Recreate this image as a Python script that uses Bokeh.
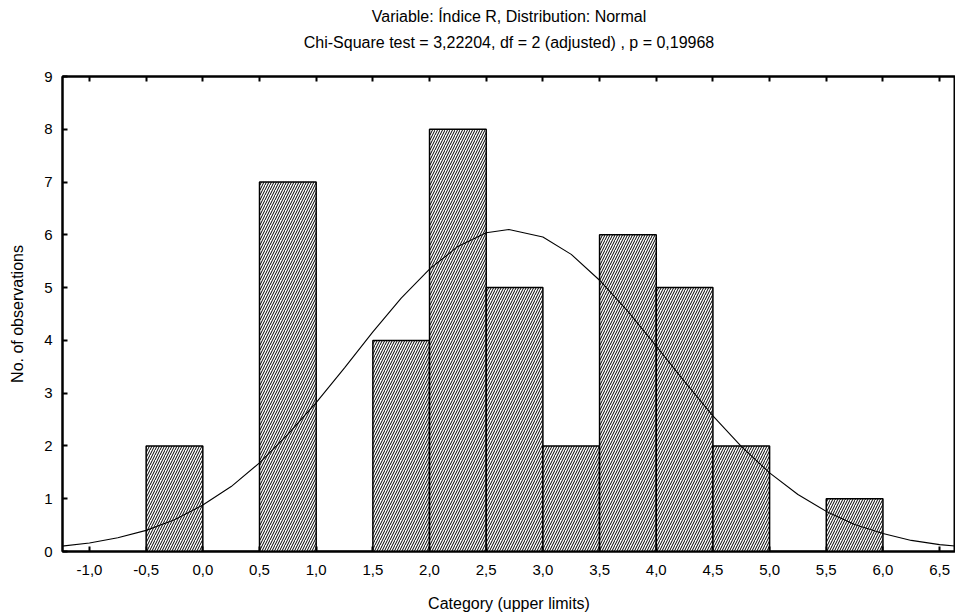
from bokeh.plotting import figure
from bokeh.models import (LinearAxis, FixedTicker, CustomJSTickFormatter, Range1d, ColumnDataSource)
from bokeh.embed import file_html
from bokeh.resources import INLINE

# ---- data ----
bin_lower = [-0.5, 0.0, 0.5, 1.0, 1.5, 2.0, 2.5, 3.0, 3.5, 4.0, 4.5, 5.0, 5.5]
bin_upper = [0.0, 0.5, 1.0, 1.5, 2.0, 2.5, 3.0, 3.5, 4.0, 4.5, 5.0, 5.5, 6.0]
counts    = [2, 0, 7, 0, 4, 8, 5, 2, 6, 5, 2, 0, 1]

curve_x = [-1.25, -1.0, -0.75, -0.5, -0.25, 0.0, 0.25, 0.5, 0.75, 1.0, 1.25, 1.5, 1.75,
           2.0, 2.25, 2.5, 2.7, 3.0, 3.25, 3.5, 3.75, 4.0, 4.25, 4.5, 4.75, 5.0, 5.25,
           5.5, 5.75, 6.0, 6.25, 6.5, 6.7]
curve_y = [0.10, 0.16, 0.26, 0.40, 0.60, 0.88, 1.23, 1.68, 2.22, 2.82, 3.48, 4.16, 4.80,
           5.35, 5.78, 6.04, 6.10, 5.96, 5.63, 5.14, 4.55, 3.89, 3.22, 2.57, 1.99, 1.49, 1.08,
           0.76, 0.51, 0.34, 0.21, 0.13, 0.09]

x_ticks = [-1.0, -0.5, 0.0, 0.5, 1.0, 1.5, 2.0, 2.5, 3.0, 3.5, 4.0, 4.5, 5.0, 5.5, 6.0, 6.5]
y_ticks = [0, 1, 2, 3, 4, 5, 6, 7, 8, 9]

title_1 = "Variable: Índice R, Distribution: Normal"
title_2 = "Chi-Square test = 3,22204, df = 2 (adjusted) , p = 0,19968"
x_label = "Category (upper limits)"
y_label = "No. of observations"

FONT = "Liberation Sans"

p = figure(width=955, height=615, output_backend="svg", toolbar_location=None,
           x_range=Range1d(-1.238, 6.64), y_range=Range1d(0, 9),
           x_axis_location=None, y_axis_location=None,
           min_border_left=62, min_border_right=0, min_border_top=76, min_border_bottom=64)
p.title = None
p.grid.visible = False
p.outline_line_color = "black"
p.outline_line_width = 2
p.background_fill_color = "white"
p.border_fill_color = "white"

src = ColumnDataSource(dict(left=bin_lower, right=bin_upper, top=counts))
p.quad(left="left", right="right", bottom=0, top="top", source=src,
       fill_color="white", line_color="black", line_width=1.5,
       hatch_pattern="/", hatch_color="black", hatch_scale=5, hatch_weight=1)

p.line(curve_x, curve_y, line_color="black", line_width=1.1)

fmt = CustomJSTickFormatter(code="return tick.toFixed(1).replace('.', ',');")
blank = CustomJSTickFormatter(code="return '';")

xb = LinearAxis(ticker=FixedTicker(ticks=x_ticks), formatter=fmt, axis_label=x_label)
# top axis: inward ticks, no labels; its axis label carries the 2nd title line
xt = LinearAxis(ticker=FixedTicker(ticks=x_ticks), formatter=blank, major_label_standoff=0,
                axis_label=title_2)
# outer top "axis" with nothing drawn but its label: the 1st title line
xt2 = LinearAxis(ticker=FixedTicker(ticks=[]), formatter=blank, major_label_standoff=0,
                 axis_label=title_1, axis_line_color=None, major_tick_line_color=None,
                 minor_tick_line_color=None)
yl = LinearAxis(ticker=FixedTicker(ticks=y_ticks), axis_label=y_label)

for ax in (xb, xt, yl):
    ax.axis_line_color = "black"
    ax.axis_line_width = 2
    ax.major_tick_in = 5
    ax.major_tick_out = 0
    ax.major_tick_line_width = 2
    ax.minor_tick_line_color = None
    ax.major_label_text_color = "black"

for ax in (xb, xt, xt2, yl):
    ax.major_label_text_font = FONT
    ax.axis_label_text_font = FONT
    ax.axis_label_text_font_style = "normal"
    ax.axis_label_text_color = "black"

xb.major_label_text_font_size = "15px"
xb.major_label_standoff = 13
xb.axis_label_text_font_size = "16px"
xb.axis_label_standoff = 17
yl.major_label_text_font_size = "15px"
yl.major_label_standoff = 10
yl.axis_label_text_font_size = "16px"
yl.axis_label_standoff = 15
xt.axis_label_text_font_size = "16px"
xt.axis_label_standoff = 26
xt2.axis_label_text_font_size = "16px"
xt2.axis_label_standoff = 6

p.add_layout(xb, "below")
p.add_layout(xt, "above")
p.add_layout(xt2, "above")
p.add_layout(yl, "left")

open("out.html", "w").write(file_html(p, INLINE))
